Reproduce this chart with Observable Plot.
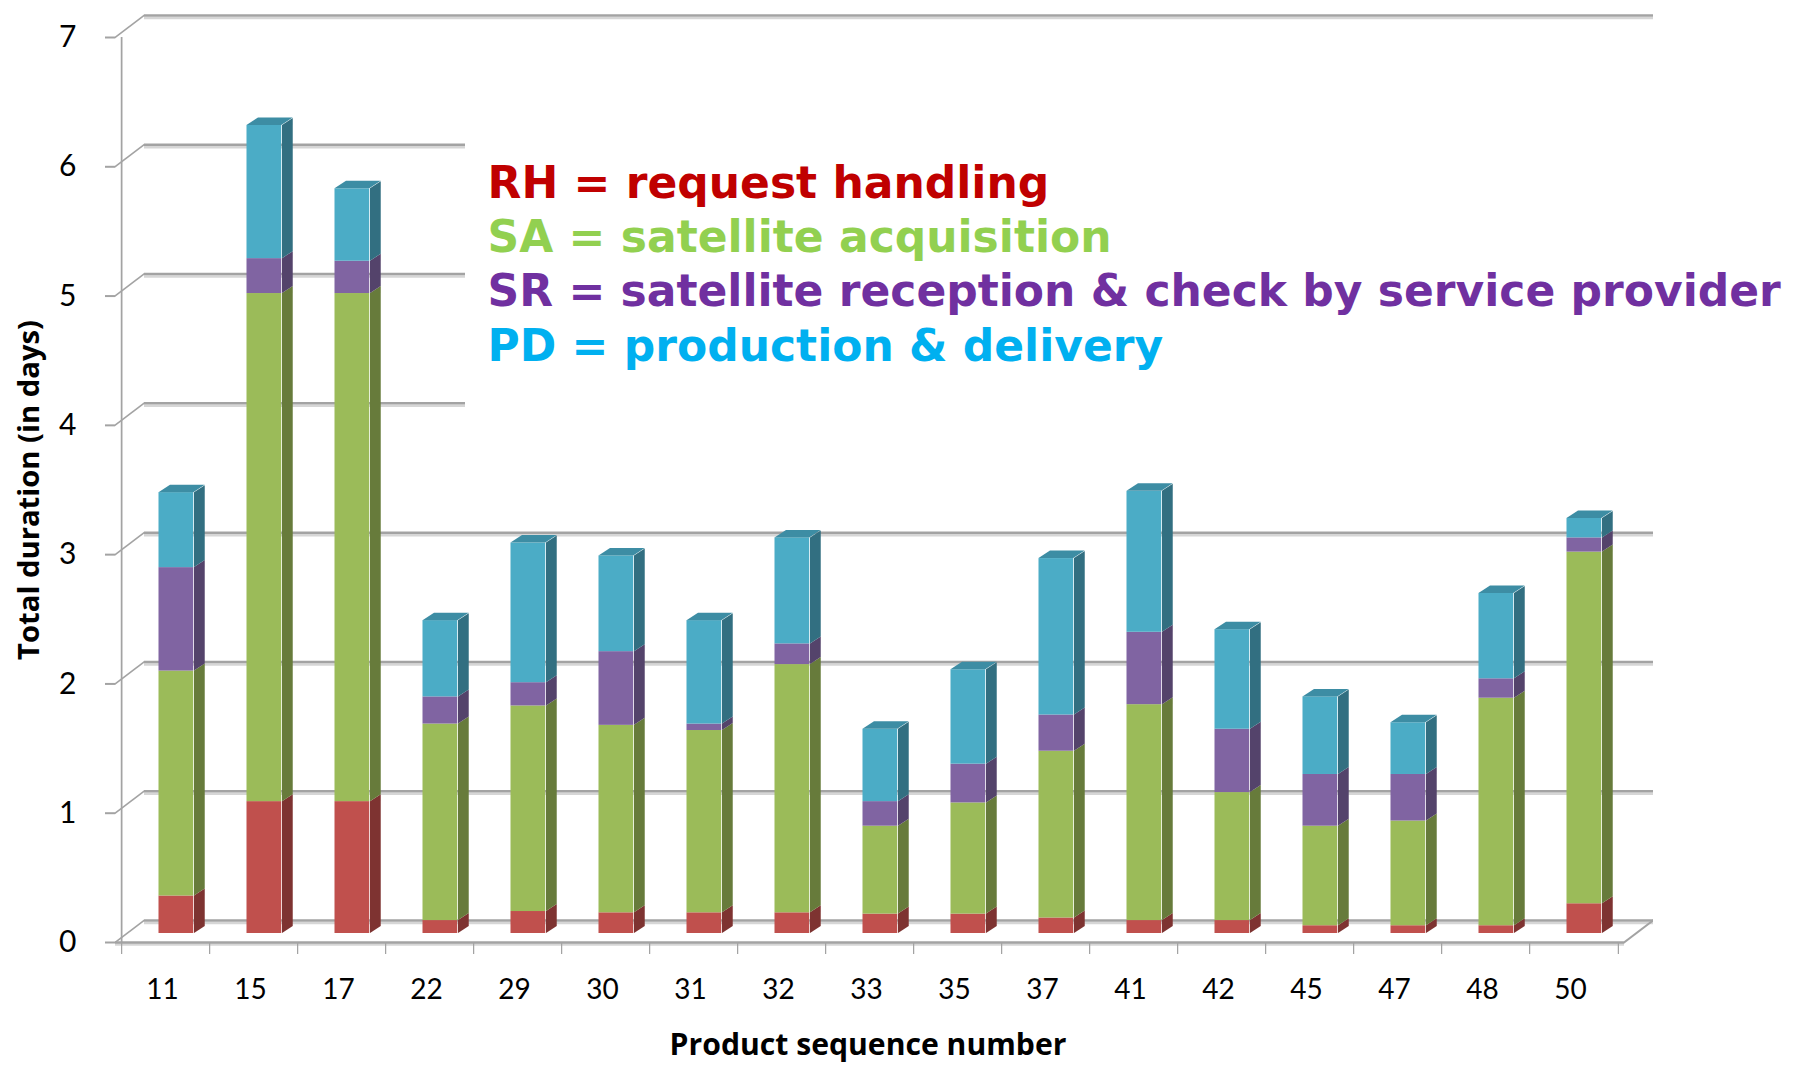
<!DOCTYPE html>
<html><head><meta charset="utf-8">
<script src="https://cdn.jsdelivr.net/npm/d3@7"></script>
<script src="https://cdn.jsdelivr.net/npm/@observablehq/plot@0.6"></script>
<style>html,body{margin:0;padding:0;background:#fff}#chart svg{display:block}</style>
</head><body><div id="chart"></div>
<script>
// ---- data ----
const categories = ["11","15","17","22","29","30","31","32","33","35","37","41","42","45","47","48","50"];
const seriesNames = ["RH","SA","SR","PD"];
const RH = [0.29,1.02,1.02,0.10,0.17,0.16,0.16,0.16,0.15,0.15,0.12,0.10,0.10,0.06,0.06,0.06,0.23];
const SA = [1.74,3.93,3.93,1.52,1.59,1.45,1.41,1.92,0.68,0.86,1.29,1.67,0.99,0.77,0.81,1.76,2.72];
const SR = [0.80,0.27,0.25,0.21,0.18,0.57,0.05,0.16,0.19,0.30,0.28,0.56,0.49,0.40,0.36,0.15,0.11];
const PD = [0.58,1.03,0.56,0.59,1.08,0.74,0.80,0.82,0.56,0.73,1.21,1.09,0.77,0.60,0.40,0.66,0.15];
const yTicks = [0,1,2,3,4,5,6,7];
const legendLines = [
  "RH = request handling",
  "SA = satellite acquisition",
  "SR = satellite reception & check by service provider",
  "PD = production & delivery"
];
const legendColors = ["#C00000","#92D050","#7030A0","#00B0F0"];
const frontColors = {RH:"#C0504D", SA:"#9BBB59", SR:"#8064A2", PD:"#4BACC6"};
const sideColors  = {RH:"#7E3331", SA:"#677B3B", SR:"#54436B", PD:"#326F81"};
const capColor = "#3D8DA4";
const yTitle = "Total duration (in days)";
const xTitle = "Product sequence number";

// ---- layout ----
const W = 1806, H = 1065, mL = 115, mR = 182, mT = 37, mB = 123;
const frameW = W - mL - mR;
const bw = frameW / categories.length;
const frontOff = 36.5, frontW = 35.5, sideW = 11.5, depthY = 7.5, baseDy = -9;
const wallDx = 29, wallDy = -22;
const grid = "#a3a3a3", gridShadow = "#d6d6d6";

const values = {RH, SA, SR, PD};
const data = categories.flatMap((c, i) => seriesNames.map(s => ({cat: c, series: s, value: values[s][i]})));
const totals = categories.map((c, i) => ({cat: c, total: d3.sum(seriesNames, s => values[s][i])}));

// font fitting to the reference's text widths
const ctx = document.createElement("canvas").getContext("2d");
function fit(text, family, weight, base, target, lo, hi) {
  ctx.font = `${weight} ${base}px ${family}`;
  const w = ctx.measureText(text).width;
  return Math.max(lo, Math.min(hi, base * target / w));
}
const legendSize = fit(legendLines[2], "'DejaVu Sans'", "bold", 40, 1303, 34, 44);
const xTitleSize = fit(xTitle, "'Open Sans'", "bold", 29, 397, 24, 36);
const yTitleSize = fit(yTitle, "'Open Sans'", "bold", 29, 340, 24, 36);

const fullGrid = yTicks.filter(v => v <= 3 || v === 7);
const shortGrid = yTicks.filter(v => v > 3 && v < 7);
const tag = name => () => name;

const marks = [
  // back wall gridlines (shadow + line)
  Plot.ruleY(fullGrid, {y: d => d, dx: wallDx, dy: wallDy + 2.5, stroke: gridShadow, strokeWidth: 2.5}),
  Plot.ruleY(fullGrid, {y: d => d, dx: wallDx, dy: wallDy, stroke: grid, strokeWidth: 2.5}),
  Plot.ruleY(shortGrid, {y: d => d, dx: wallDx, dy: wallDy + 2.5, insetRight: frameW - (465 - mL - wallDx), stroke: gridShadow, strokeWidth: 2.5}),
  Plot.ruleY(shortGrid, {y: d => d, dx: wallDx, dy: wallDy, insetRight: frameW - (465 - mL - wallDx), stroke: grid, strokeWidth: 2.5}),
  // left wall connectors
  Plot.ruleY(yTicks, {y: d => d, insetRight: frameW - wallDx, stroke: grid, strokeWidth: 2, ariaLabel: tag("diag")}),
  // floor right edge
  Plot.ruleY([0], {y: d => d, insetLeft: frameW, insetRight: -wallDx, stroke: grid, strokeWidth: 2.5, ariaLabel: tag("diag")}),
  // front x axis line
  Plot.ruleY([0], {y: d => d, dy: 2, stroke: gridShadow, strokeWidth: 2.5}),
  Plot.ruleY([0], {y: d => d, stroke: grid, strokeWidth: 2.5}),
  // y tick marks
  Plot.ruleY(yTicks, {y: d => d, insetLeft: -10, insetRight: frameW, stroke: grid, strokeWidth: 2}),
  // front y axis line
  Plot.barY([categories[0]], {x: d => d, y1: 0, y2: 7, insetLeft: -1.25, insetRight: bw - 1.25, fill: grid}),
  // x tick marks (band boundaries)
  Plot.barY(categories, {x: d => d, y1: 0, y2: 0, insetBottom: -12, insetLeft: -1, insetRight: bw - 1, fill: grid}),
  Plot.barY([categories[categories.length - 1]], {x: d => d, y1: 0, y2: 0, insetBottom: -12, insetLeft: bw - 1, insetRight: -1, fill: grid}),
  // bars: side faces
  Plot.barY(data, Plot.stackY({x: "cat", y: "value", fill: d => sideColors[d.series],
    insetLeft: frontOff + frontW, insetRight: bw - frontOff - frontW - sideW, dy: baseDy, ariaLabel: tag("side")})),
  // bars: front faces
  Plot.barY(data, Plot.stackY({x: "cat", y: "value", fill: d => frontColors[d.series],
    insetLeft: frontOff, insetRight: bw - frontOff - frontW, dy: baseDy})),
  // bars: top caps
  Plot.barY(totals, {x: "cat", y1: "total", y2: "total", insetTop: -depthY, insetBottom: 0,
    insetLeft: frontOff, insetRight: bw - frontOff - frontW, dy: baseDy, fill: capColor, ariaLabel: tag("cap")}),
  // x labels
  Plot.text(categories, {x: d => d, text: d => d, frameAnchor: "bottom", textAnchor: "middle", lineAnchor: "middle",
    dy: 48, dx: -4, fontSize: 28, fill: "#000"}),
  // y labels
  Plot.text(yTicks, {y: d => d, text: d => String(d), frameAnchor: "left", dx: -39, textAnchor: "end", lineAnchor: "middle", fontSize: 30, fill: "#000"}),
  // axis titles
  Plot.text([yTitle], {text: d => d, frameAnchor: "left", textAnchor: "middle", lineAnchor: "middle", dx: -86, rotate: -90,
    fontSize: yTitleSize, fontWeight: "bold", fontFamily: "'Open Sans'", fill: "#000"}),
  Plot.text([xTitle], {text: d => d, frameAnchor: "bottom", textAnchor: "middle", lineAnchor: "middle", dy: 103, dx: -2,
    fontSize: xTitleSize, fontWeight: "bold", fontFamily: "'Open Sans'", fill: "#000"}),
  // legend text
  ...legendLines.map((t, i) => Plot.text([t], {text: d => d, frameAnchor: "top-left", dx: 487 - mL, dy: 197 + i * 54.4 - mT,
    textAnchor: "start", lineAnchor: "bottom", fill: legendColors[i], fontSize: legendSize, fontWeight: "bold", fontFamily: "'DejaVu Sans'"}))
];

const svg = Plot.plot({
  width: W, height: H,
  marginLeft: mL, marginRight: mR, marginTop: mT, marginBottom: mB,
  style: {fontFamily: "Lato, 'Open Sans', sans-serif", background: "#fff"},
  x: {type: "band", domain: categories, padding: 0, axis: null},
  y: {domain: [0, 7], axis: null},
  color: {type: "identity"},
  marks
});

function pick(label, tagName) {
  const out = [];
  svg.querySelectorAll(`[aria-label="${label}"]`).forEach(el => {
    if (el.tagName.toLowerCase() === tagName) out.push(el);
    else el.querySelectorAll(tagName).forEach(e => out.push(e));
  });
  return out;
}

// 3D skew of side faces, caps, and wall connectors
const sideAngle = Math.atan2(-depthY, sideW) * 180 / Math.PI;
pick("side", "rect").forEach(r => {
  const x = +r.getAttribute("x");
  r.setAttribute("transform", `translate(${x},0) skewY(${sideAngle}) translate(${-x},0)`);
});
const capAngle = Math.atan2(-sideW, depthY) * 180 / Math.PI;
pick("cap", "rect").forEach(r => {
  const yb = +r.getAttribute("y") + +r.getAttribute("height");
  r.setAttribute("transform", `translate(0,${yb}) skewX(${capAngle}) translate(0,${-yb})`);
});
const diagAngle = Math.atan2(wallDy, wallDx) * 180 / Math.PI;
pick("diag", "line").forEach(l => {
  const x = +l.getAttribute("x1");
  l.setAttribute("transform", `translate(${x},0) skewY(${diagAngle}) translate(${-x},0)`);
});

document.getElementById("chart").appendChild(svg);
</script>
</body></html>
